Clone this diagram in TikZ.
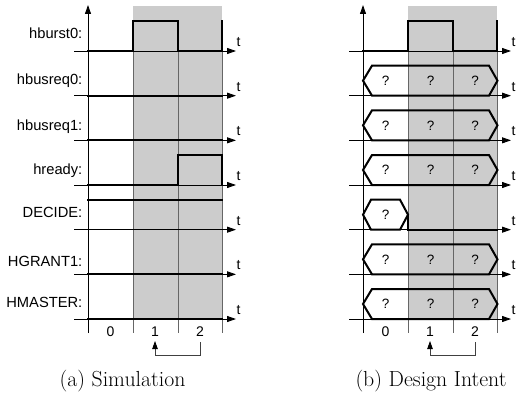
\documentclass[tikz,border=0pt]{standalone}
\usepackage{fontspec}
\setsansfont{Liberation Sans}
\usetikzlibrary{arrows.meta}
\begin{document}
\begin{tikzpicture}[x=1pt,y=-1pt,
  sig/.style={line width=2pt, line cap=rect},
  axisline/.style={line width=0.9pt, -{Triangle[length=9pt,width=6pt]}},
  gridline/.style={black!60, line width=0.8pt},
  lab/.style={font=\sffamily\fontsize{14.7}{16}\selectfont, anchor=base east, inner sep=0pt},
  tlab/.style={font=\sffamily\fontsize{14}{16}\selectfont, inner sep=0pt},
  qlab/.style={font=\sffamily\fontsize{13.5}{15}\selectfont, inner sep=0pt},
  caplab/.style={font=\fontsize{21.8}{26}\selectfont, anchor=base, inner sep=0pt},
  brk/.style={black!75, line width=0.8pt, -{Triangle[length=8pt,width=5.5pt,color=black]}}]
\useasboundingbox (0,0) rectangle (518,396);
\def\rA{51}\def\rB{95.67}\def\rC{140.33}\def\rD{185}\def\rE{229.67}\def\rF{274.33}\def\rG{319}
% common parts of both panels
\foreach \off/\nm in {0/a,275/b}{
  \fill[black!20] (133+\off,6) rectangle (222+\off,\rG);
  \foreach \gx in {133,178,222}{
    \draw[gridline] (\gx+\off,21) -- (\gx+\off,333);
  }
  \draw[axisline] (88+\off,333) -- (88+\off,5);
  \foreach \ry in {\rA,\rB,\rC,\rD,\rE,\rF,\rG}{
    \draw[axisline] (74+\off,\ry) -- (236+\off,\ry);
    \node[tlab] at (238.5+\off,\ry-9) {t};
  }
  \draw[sig] (88+\off,\rA) -- (133+\off,\rA) -- (133+\off,\rA-30) -- (178+\off,\rA-30)
     -- (178+\off,\rA) -- (222+\off,\rA) -- (222+\off,\rA-30);
  \node[tlab] (\nm-t0) at (110.5+\off,332) {0};
  \node[tlab] (\nm-t1) at (155+\off,332) {1};
  \node[tlab] (\nm-t2) at (200+\off,332) {2};
  \coordinate (\nm-from) at (200+\off,342);
  \coordinate (\nm-to) at (155+\off,341);
  \draw[brk] (\nm-from) -- (200+\off,355) -- (155+\off,355) -- (\nm-to);
}
% labels
\node[lab] (l0) at (82.5,38) {hburst0:};
\node[lab] (l1) at (82.5,84.5) {hbusreq0:};
\node[lab] (l2) at (82.5,130) {hbusreq1:};
\node[lab] (l3) at (82.5,174) {hready:};
\node[lab] (l4) at (82.5,217) {DECIDE:};
\node[lab] (l5) at (82.5,266) {HGRANT1:};
\node[lab] (l6) at (82.5,307) {HMASTER:};
% left panel signals
\foreach \ry in {\rB,\rC,\rF,\rG}{
  \draw[sig] (88,\ry) -- (222,\ry);
}
\draw[sig] (88,\rD) -- (178,\rD) -- (178,\rD-30) -- (222,\rD-30) -- (222,\rD);
\draw[sig] (88,\rE-30) -- (222,\rE-30);
% right panel buses
\foreach \ry in {\rB,\rC,\rD,\rF,\rG}{
  \draw[sig, line cap=butt, line join=miter] (363,\ry-15) -- (372,\ry-30) -- (489,\ry-30) -- (497.5,\ry-15)
     -- (489,\ry) -- (372,\ry) -- cycle;
  \node[qlab] at (385.5,\ry-15) {?};
  \node[qlab] at (430.5,\ry-15) {?};
  \node[qlab] at (475,\ry-15) {?};
}
\draw[sig, line cap=butt, line join=miter] (363,\rE-15) -- (371,\rE-30) -- (400,\rE-30) -- (408,\rE-15)
   -- (400,\rE) -- (371,\rE) -- cycle;
\draw[sig] (408,\rE-15) -- (408,\rE) -- (497,\rE);
\node[qlab] at (385.5,\rE-15) {?};
% captions
\node[caplab] (capa) at (122.5,386) {(a) Simulation};
\node[caplab] (capb) at (431,386) {(b) Design Intent};
\end{tikzpicture}
\end{document}
